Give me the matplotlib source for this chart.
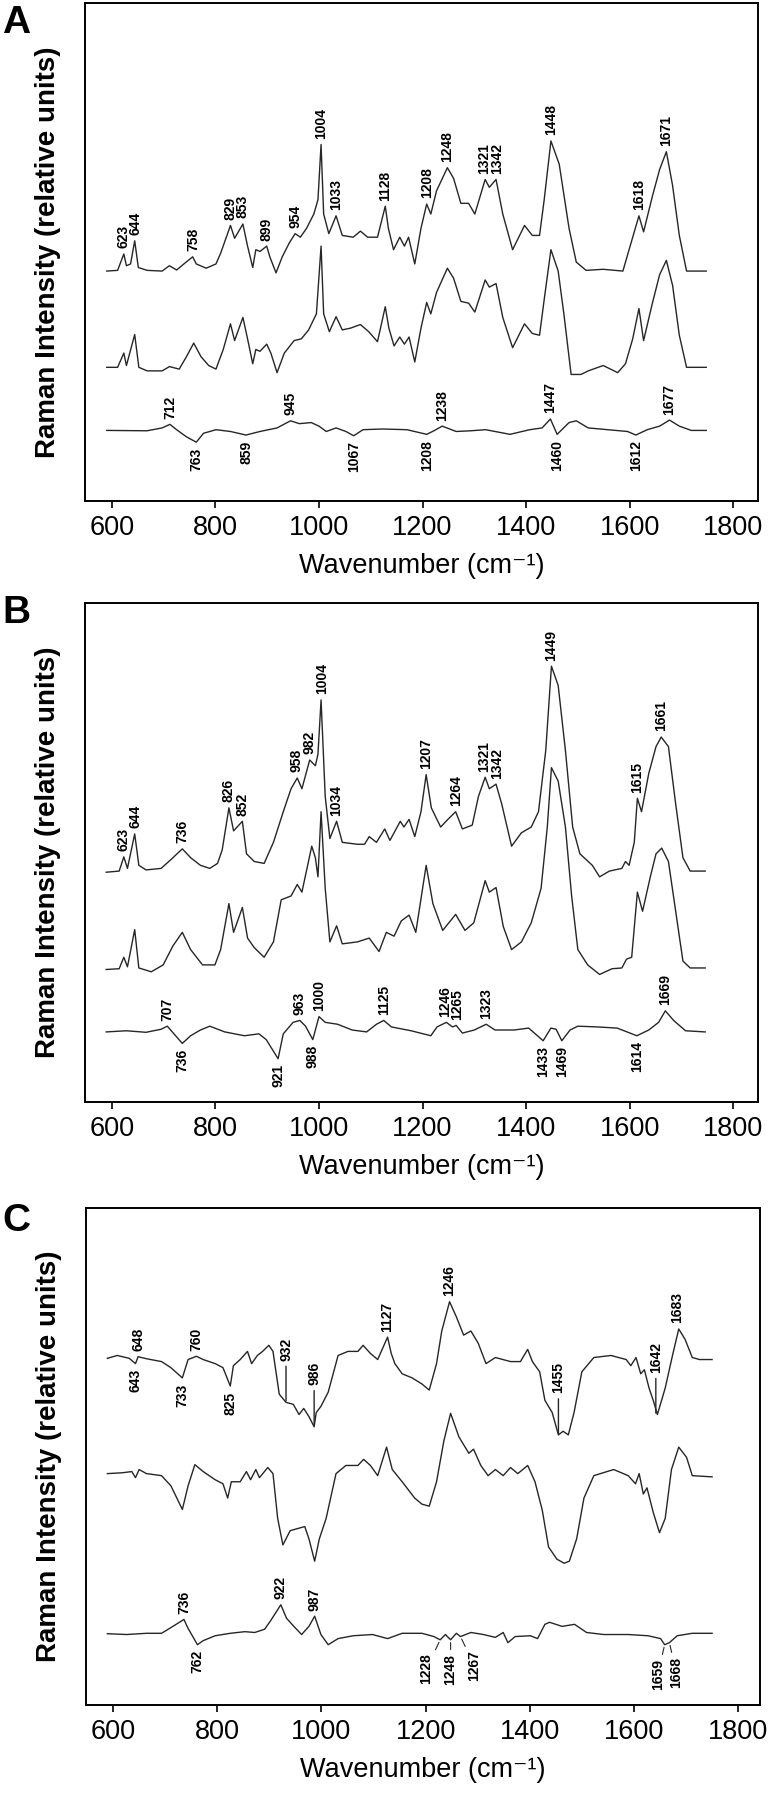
import numpy as np
import matplotlib
matplotlib.use("Agg")
import matplotlib.pyplot as plt

plt.rcParams['font.family'] = ['Liberation Sans', 'DejaVu Sans']

# (wavenumber cm-1, intensity in relative units)
a_top = [(590, 645), (611, 647), (623, 693), (628, 660), (636, 665), (644, 730), (651, 655), (668, 647),
         (697, 645), (711, 660), (725, 648), (739, 665), (756, 685), (763, 665), (782, 653), (801, 665),
         (810, 695), (829, 773), (837, 737), (853, 777), (862, 715), (872, 655), (878, 705), (886, 700),
         (899, 715), (905, 685), (917, 640), (929, 685), (943, 725), (954, 750), (964, 740), (976, 765),
         (990, 805), (998, 845), (1004, 1000), (1009, 805), (1019, 750), (1033, 800), (1045, 745),
         (1066, 740), (1080, 757), (1094, 740), (1113, 740), (1128, 827), (1134, 765), (1144, 705),
         (1156, 740), (1165, 715), (1173, 740), (1185, 665), (1197, 765), (1208, 833), (1216, 805),
         (1227, 870), (1248, 935), (1260, 905), (1274, 835), (1289, 835), (1301, 805), (1321, 902),
         (1329, 880), (1342, 902), (1355, 805), (1374, 705), (1397, 773), (1412, 745), (1426, 745),
         (1435, 845), (1448, 1010), (1464, 945), (1483, 765), (1497, 670), (1516, 647), (1549, 650),
         (1587, 645), (1601, 715), (1618, 800), (1627, 755), (1644, 855), (1658, 930), (1671, 980),
         (1683, 885), (1696, 745), (1710, 645), (1748, 645)]
a_mid = [(590, 375), (611, 375), (623, 415), (628, 380), (644, 467), (652, 375), (668, 365), (697, 365),
         (711, 377), (730, 370), (744, 405), (758, 443), (772, 405), (787, 380), (801, 370), (815, 425),
         (829, 497), (837, 450), (853, 515), (862, 455), (872, 385), (878, 425), (886, 420), (899, 440),
         (907, 415), (919, 360), (933, 415), (952, 450), (966, 455), (980, 480), (995, 525), (1004, 715),
         (1009, 525), (1020, 475), (1033, 517), (1045, 480), (1061, 485), (1080, 495), (1096, 475),
         (1113, 447), (1128, 545), (1135, 485), (1145, 435), (1156, 460), (1165, 440), (1174, 460),
         (1185, 390), (1197, 485), (1208, 557), (1216, 525), (1227, 585), (1248, 653), (1260, 625),
         (1274, 560), (1289, 555), (1301, 530), (1321, 620), (1329, 600), (1342, 610), (1355, 515),
         (1374, 430), (1397, 497), (1412, 470), (1426, 465), (1435, 565), (1448, 705), (1462, 645),
         (1473, 525), (1487, 355), (1506, 355), (1520, 365), (1549, 380), (1577, 360), (1592, 385),
         (1606, 455), (1618, 540), (1627, 450), (1644, 555), (1658, 635), (1671, 675), (1683, 605),
         (1696, 465), (1710, 375), (1748, 375)]
a_diff = [(590, 198), (668, 197), (697, 205), (712, 215), (725, 200), (744, 180), (763, 165), (777, 190),
          (801, 200), (829, 195), (859, 185), (886, 195), (919, 205), (945, 225), (962, 217), (985, 220),
          (1000, 210), (1014, 195), (1033, 205), (1052, 195), (1067, 183), (1085, 200), (1123, 202),
          (1170, 200), (1208, 187), (1222, 197), (1238, 210), (1265, 195), (1293, 197), (1322, 200),
          (1369, 187), (1407, 200), (1431, 205), (1447, 230), (1460, 187), (1483, 220), (1497, 225),
          (1520, 205), (1558, 200), (1596, 195), (1612, 185), (1634, 200), (1658, 210), (1677, 227),
          (1696, 210), (1719, 198), (1748, 198)]

b_top = [(589, 600), (614, 603), (623, 640), (630, 610), (644, 700), (652, 618), (666, 606), (695, 610),
         (714, 633), (736, 661), (752, 638), (771, 618), (789, 610), (804, 623), (813, 658), (826, 768),
         (835, 708), (852, 733), (860, 648), (875, 628), (894, 623), (912, 678), (931, 758), (946, 818),
         (958, 846), (967, 818), (982, 893), (993, 878), (998, 908), (1004, 1050), (1012, 798),
         (1021, 688), (1034, 733), (1045, 678), (1074, 673), (1088, 673), (1097, 693), (1111, 678),
         (1127, 713), (1137, 683), (1157, 733), (1164, 718), (1174, 738), (1185, 693), (1197, 758),
         (1207, 855), (1217, 768), (1235, 718), (1249, 738), (1264, 758), (1277, 713), (1296, 723),
         (1308, 798), (1321, 848), (1329, 818), (1342, 830), (1353, 778), (1372, 668), (1391, 703),
         (1410, 718), (1424, 758), (1438, 918), (1449, 1138), (1462, 1088), (1476, 918), (1490, 718),
         (1504, 648), (1528, 618), (1542, 588), (1561, 603), (1585, 610), (1592, 628), (1599, 618),
         (1609, 678), (1615, 793), (1623, 758), (1637, 858), (1651, 928), (1661, 953), (1675, 928),
         (1689, 778), (1703, 638), (1717, 603), (1746, 603)]
b_mid = [(589, 346), (614, 348), (623, 378), (630, 353), (644, 450), (652, 350), (676, 340), (699, 358),
         (718, 408), (736, 443), (752, 398), (775, 358), (799, 358), (810, 398), (826, 518), (835, 443),
         (852, 508), (862, 428), (875, 403), (894, 378), (912, 418), (927, 528), (946, 538), (958, 568),
         (967, 548), (986, 668), (993, 638), (998, 588), (1004, 758), (1012, 558), (1021, 418),
         (1034, 460), (1045, 413), (1074, 418), (1097, 428), (1116, 393), (1130, 443), (1145, 433),
         (1159, 473), (1174, 488), (1187, 443), (1207, 618), (1220, 518), (1239, 448), (1264, 490),
         (1282, 448), (1299, 468), (1321, 578), (1329, 548), (1342, 560), (1356, 458), (1372, 398),
         (1391, 418), (1410, 468), (1429, 558), (1441, 718), (1449, 873), (1462, 838), (1476, 718),
         (1488, 538), (1500, 398), (1519, 358), (1542, 333), (1566, 348), (1585, 350), (1594, 373),
         (1604, 378), (1615, 548), (1625, 498), (1640, 588), (1651, 648), (1662, 663), (1675, 628),
         (1689, 498), (1703, 368), (1717, 350), (1746, 350)]
b_diff = [(589, 183), (628, 186), (666, 182), (695, 190), (707, 198), (723, 173), (736, 153), (752, 173),
          (771, 188), (789, 198), (818, 183), (856, 173), (884, 178), (898, 163), (921, 113), (931, 178),
          (950, 208), (963, 213), (974, 198), (988, 163), (993, 188), (1000, 223), (1012, 208),
          (1036, 203), (1064, 188), (1092, 183), (1111, 203), (1125, 213), (1140, 196), (1178, 186),
          (1216, 173), (1228, 196), (1246, 208), (1258, 196), (1265, 200), (1277, 180), (1300, 188),
          (1323, 203), (1340, 188), (1377, 188), (1405, 193), (1433, 160), (1448, 193), (1458, 190),
          (1469, 160), (1485, 188), (1500, 198), (1538, 196), (1576, 193), (1614, 173), (1637, 188),
          (1656, 208), (1669, 238), (1685, 213), (1708, 186), (1746, 183)]

c_top = [(589, 851), (608, 858), (631, 851), (643, 838), (648, 855), (664, 850), (693, 843), (711, 828),
         (733, 803), (744, 848), (760, 856), (773, 848), (796, 838), (811, 828), (825, 783), (831, 833),
         (844, 848), (858, 868), (866, 838), (877, 858), (887, 868), (899, 883), (907, 868), (919, 763),
         (932, 743), (946, 738), (957, 713), (966, 728), (976, 708), (986, 683), (990, 718), (999, 733),
         (1013, 768), (1032, 858), (1051, 868), (1070, 868), (1080, 883), (1094, 863), (1108, 848),
         (1127, 903), (1134, 863), (1141, 838), (1155, 813), (1174, 803), (1193, 788), (1207, 773),
         (1221, 838), (1231, 918), (1246, 990), (1259, 953), (1273, 908), (1287, 918), (1301, 888),
         (1316, 838), (1334, 853), (1363, 843), (1382, 843), (1396, 873), (1405, 843), (1419, 818),
         (1429, 748), (1443, 718), (1455, 663), (1464, 672), (1474, 663), (1485, 718), (1500, 818),
         (1523, 853), (1556, 858), (1585, 848), (1594, 833), (1604, 853), (1613, 813), (1620, 823),
         (1629, 778), (1637, 748), (1645, 713), (1660, 778), (1674, 858), (1686, 923), (1698, 898),
         (1712, 853), (1726, 848), (1750, 848)]
c_mid = [(589, 568), (617, 570), (636, 573), (643, 558), (650, 578), (664, 568), (693, 563), (711, 538),
         (733, 480), (744, 538), (757, 590), (773, 573), (796, 553), (811, 543), (820, 508), (827, 548),
         (844, 548), (856, 573), (864, 553), (874, 578), (881, 558), (897, 583), (907, 568), (916, 458),
         (926, 393), (940, 428), (954, 433), (968, 438), (976, 408), (987, 353), (996, 408), (1009, 458),
         (1028, 568), (1047, 588), (1070, 588), (1081, 603), (1094, 588), (1108, 563), (1125, 633),
         (1136, 578), (1155, 548), (1179, 508), (1193, 493), (1207, 488), (1221, 548), (1235, 648),
         (1248, 716), (1264, 658), (1283, 618), (1292, 628), (1306, 588), (1320, 563), (1334, 578),
         (1349, 563), (1363, 583), (1377, 568), (1396, 588), (1410, 548), (1424, 478), (1436, 388),
         (1452, 358), (1466, 348), (1476, 353), (1490, 408), (1504, 508), (1523, 563), (1561, 578),
         (1589, 563), (1603, 543), (1610, 568), (1618, 518), (1625, 533), (1637, 473), (1649, 423),
         (1660, 458), (1672, 578), (1686, 633), (1701, 608), (1712, 563), (1750, 560)]
c_diff = [(589, 175), (626, 173), (664, 176), (693, 176), (711, 190), (736, 210), (744, 188), (762, 148),
          (773, 158), (796, 170), (825, 176), (853, 180), (872, 178), (891, 186), (903, 208), (922, 246),
          (933, 213), (947, 193), (962, 173), (976, 193), (987, 218), (999, 173), (1013, 148),
          (1032, 163), (1061, 170), (1098, 173), (1127, 163), (1155, 176), (1193, 176), (1216, 168),
          (1228, 160), (1238, 173), (1248, 160), (1259, 176), (1267, 168), (1287, 178), (1311, 173),
          (1334, 166), (1349, 178), (1358, 153), (1372, 168), (1401, 170), (1415, 163), (1429, 198),
          (1438, 203), (1462, 193), (1486, 198), (1509, 178), (1542, 173), (1589, 173), (1627, 170),
          (1651, 163), (1659, 148), (1668, 153), (1683, 170), (1712, 176), (1750, 176)]

# peak labels
a_top_up = [623, 644, 758, 829, 853, 899, 954, 1004, 1033, 1128, 1208, 1248, 1321, 1342, 1448, 1618, 1671]
a_diff_up = [712, 945, 1238, 1447, 1677]
a_diff_down = [763, 859, 1067, 1208, 1460, 1612]
b_top_up = [623, 644, 736, 826, 852, 958, 982, 1004, 1034, 1207, 1264, 1321, 1342, 1449, 1615, 1661]
b_diff_up = [707, 963, 1000, 1125, 1246, 1265, 1323, 1669]
b_diff_down = [736, 921, 988, 1433, 1469, 1614]
c_top_up = [648, 760, 1127, 1246, 1683]
c_top_down = [643, 733, 825]
c_top_lead = [932, 986, 1455, 1642]
c_diff_up = [736, 922, 987]
c_diff_down = [762]
c_diff_fans = [[1228, 1248, 1267], [1659, 1668]]

LINE = "#262626"
PEAK_FONT = dict(fontsize=10, fontweight="bold", rotation=90, ha="center")
MIN_GAP = 9.0  # points between neighbouring rotated labels


def trace(ax, pts):
    x, y = np.array(pts, dtype=float).T
    ax.plot(x, y, color=LINE, lw=1.0)
    return x, y


def peak_y(xy, p, up):
    x, y = xy
    vals = np.append(y[np.abs(x - p) <= 7], np.interp(p, x, y))
    return vals.max() if up else vals.min()


def spread(ax, peaks):
    # horizontal nudge (points) so that close labels sit side by side
    lo, hi = ax.get_xlim()
    k = ax.get_position().width * fig.get_figwidth() * 72 / (hi - lo)
    pos = np.array(peaks, dtype=float) * k
    new = pos.copy()
    for _ in range(20):
        for i in range(1, len(new)):
            gap = new[i] - new[i - 1]
            if gap < MIN_GAP:
                d = (MIN_GAP - gap) / 2
                new[i - 1] -= d
                new[i] += d
    return new - pos


def label(ax, xy, peaks, up=True, pad=4):
    for p, dx in zip(peaks, spread(ax, peaks)):
        ax.annotate(str(p), (p, peak_y(xy, p, up)), xytext=(dx, pad if up else -pad),
                    textcoords="offset points", va="bottom" if up else "top", **PEAK_FONT)


def lead_label(ax, xy, peaks, rise=30):
    for p in peaks:
        ax.annotate(str(p), (p, peak_y(xy, p, False)), xytext=(0, rise),
                    textcoords="offset points", va="bottom", **PEAK_FONT,
                    arrowprops=dict(arrowstyle="-", lw=1, color=LINE, shrinkA=2, shrinkB=1))


def fan_label(ax, xy, groups, drop=10, step=10):
    for grp in groups:
        n = len(grp)
        for i, p in enumerate(grp):
            dx = (i - (n - 1) / 2) * step
            ax.annotate(str(p), (p, peak_y(xy, p, False)), xytext=(dx, -drop),
                        textcoords="offset points", va="top", **PEAK_FONT,
                        arrowprops=dict(arrowstyle="-", lw=0.8, color=LINE, shrinkA=1, shrinkB=2))


def setup(ax, xlim, ylim):
    ax.set_xlim(xlim)
    ax.set_ylim(ylim)
    ax.set_xticks(range(600, 1801, 200))
    ax.set_yticks([])
    ax.tick_params(axis="x", direction="out", length=5, width=1.2, labelsize=19.5, pad=5)
    for s in ax.spines.values():
        s.set_linewidth(1.4)
    ax.set_xlabel("Wavenumber (cm\u207b\u00b9)", fontsize=19.5, labelpad=9)
    ax.set_ylabel("Raman Intensity (relative units)", fontsize=20, fontweight="bold", va="center")
    ax.yaxis.set_label_coords(-0.055, 0.5)


fig = plt.figure(figsize=(7.68, 18), dpi=100)
H = 1800.0
W = 768.0
ax_a = fig.add_axes([85 / W, 1 - 501 / H, 673 / W, 498 / H])
ax_b = fig.add_axes([85 / W, 1 - 1102 / H, 673 / W, 499 / H])
ax_c = fig.add_axes([86 / W, 1 - 1705 / H, 674 / W, 497 / H])

# panel A
setup(ax_a, (548, 1848), (0, 1397))
t = trace(ax_a, a_top)
trace(ax_a, a_mid)
d = trace(ax_a, a_diff)
label(ax_a, t, a_top_up)
label(ax_a, d, a_diff_up)
label(ax_a, d, a_diff_down, up=False)

# panel B
setup(ax_b, (548, 1848), (0, 1303))
t = trace(ax_b, b_top)
trace(ax_b, b_mid)
d = trace(ax_b, b_diff)
label(ax_b, t, b_top_up)
label(ax_b, d, b_diff_up)
label(ax_b, d, b_diff_down, up=False)

# panel C
setup(ax_c, (548, 1842), (0, 1220))
t = trace(ax_c, c_top)
trace(ax_c, c_mid)
d = trace(ax_c, c_diff)
label(ax_c, t, c_top_up)
label(ax_c, t, c_top_down, up=False)
lead_label(ax_c, t, c_top_lead)
label(ax_c, d, c_diff_up)
label(ax_c, d, c_diff_down, up=False)
fan_label(ax_c, d, c_diff_fans)

for letter, base in [("A", 33), ("B", 623), ("C", 1231)]:
    fig.text(2 / W, 1 - base / H, letter, fontsize=28, fontweight="bold", ha="left", va="baseline")

fig.savefig("out.png", dpi=100)
